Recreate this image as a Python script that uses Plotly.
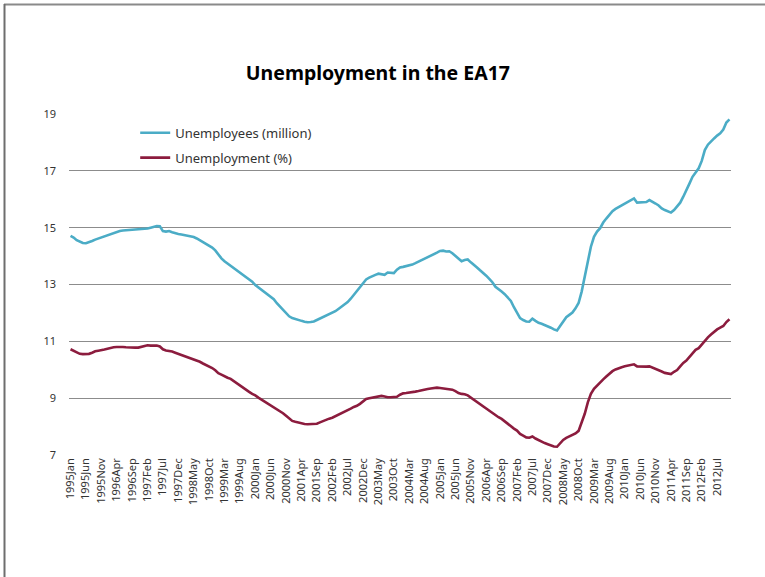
import plotly.graph_objects as go

MONTHS = ["Jan", "Feb", "Mar", "Apr", "May", "Jun", "Jul", "Aug", "Sep", "Oct", "Nov", "Dec"]
categories = [f"{y}{m}" for y in range(1995, 2013) for m in MONTHS][:215]

unemployees_million = [
    14.71, 14.65, 14.56, 14.50, 14.46, 14.45, 14.48, 14.53, 14.58, 14.62, 14.66, 14.70,
    14.74, 14.78, 14.82, 14.86, 14.88, 14.90, 14.91, 14.90, 14.91, 14.92, 14.93, 14.95,
    14.96, 14.97, 15.00, 15.04, 15.06, 15.05, 14.88, 14.86, 14.88, 14.84, 14.80, 14.78,
    14.76, 14.74, 14.72, 14.70, 14.67, 14.62, 14.56, 14.50, 14.44, 14.37, 14.30, 14.20,
    14.05, 13.92, 13.82, 13.74, 13.66, 13.58, 13.50, 13.43, 13.36, 13.28, 13.20, 13.10,
    12.98, 12.90, 12.82, 12.74, 12.66, 12.58, 12.48, 12.34, 12.22, 12.10, 11.98, 11.88,
    11.82, 11.78, 11.74, 11.72, 11.69, 11.67, 11.68, 11.70, 11.75, 11.80, 11.85, 11.90,
    11.94, 11.99, 12.06, 12.14, 12.22, 12.30, 12.38, 12.50, 12.64, 12.78, 12.92, 13.08,
    13.18, 13.24, 13.30, 13.34, 13.38, 13.36, 13.34, 13.42, 13.40, 13.40, 13.52, 13.60,
    13.62, 13.65, 13.66, 13.70, 13.75, 13.80, 13.86, 13.90, 13.95, 14.00, 14.06, 14.12,
    14.18, 14.19, 14.16, 14.17, 14.10, 14.00, 13.90, 13.82, 13.86, 13.88, 13.78, 13.70,
    13.60, 13.50, 13.42, 13.31, 13.20, 13.08, 12.92, 12.82, 12.75, 12.66, 12.55, 12.42,
    12.20, 12.00, 11.82, 11.75, 11.70, 11.69, 11.80, 11.72, 11.65, 11.62, 11.58, 11.52,
    11.48, 11.42, 11.38, 11.54, 11.69, 11.85, 11.93, 12.01, 12.16, 12.35, 12.75, 13.27,
    13.80, 14.33, 14.68, 14.86, 14.98, 15.18, 15.32, 15.46, 15.58, 15.66, 15.72, 15.78,
    15.86, 15.91, 15.96, 16.03, 15.88, 15.88, 15.89, 15.90, 15.97, 15.92, 15.85, 15.78,
    15.68, 15.62, 15.56, 15.53, 15.62, 15.74, 15.88, 16.09, 16.30, 16.55, 16.79, 16.95,
    17.09, 17.35, 17.73, 17.92, 18.05, 18.14, 18.24, 18.32, 18.45, 18.70, 18.81,
]

unemployment_pct = [
    10.72, 10.66, 10.60, 10.56, 10.55, 10.55, 10.56, 10.60, 10.65, 10.67, 10.68, 10.71,
    10.74, 10.77, 10.79, 10.80, 10.81, 10.80, 10.79, 10.78, 10.78, 10.78, 10.78, 10.80,
    10.84, 10.86, 10.85, 10.86, 10.85, 10.82, 10.72, 10.68, 10.67, 10.64, 10.60, 10.56,
    10.52, 10.49, 10.46, 10.42, 10.38, 10.33, 10.28, 10.22, 10.17, 10.12, 10.06, 9.98,
    9.88, 9.83, 9.77, 9.72, 9.68, 9.60, 9.52, 9.43, 9.35, 9.28, 9.22, 9.15,
    9.10, 9.02, 8.95, 8.88, 8.82, 8.76, 8.70, 8.62, 8.55, 8.47, 8.38, 8.28,
    8.20, 8.17, 8.14, 8.12, 8.09, 8.08, 8.08, 8.09, 8.10, 8.15, 8.20, 8.25,
    8.28, 8.31, 8.36, 8.42, 8.48, 8.53, 8.58, 8.63, 8.69, 8.73, 8.80, 8.90,
    8.97, 9.00, 9.02, 9.03, 9.06, 9.08, 9.06, 9.03, 9.03, 9.05, 9.05, 9.12,
    9.17, 9.18, 9.19, 9.21, 9.23, 9.25, 9.28, 9.30, 9.32, 9.34, 9.36, 9.37,
    9.36, 9.35, 9.33, 9.31, 9.30, 9.25, 9.18, 9.15, 9.14, 9.10, 9.02, 8.95,
    8.88, 8.80, 8.71, 8.62, 8.55, 8.47, 8.39, 8.33, 8.27, 8.18, 8.10, 8.00,
    7.93, 7.86, 7.74, 7.68, 7.62, 7.61, 7.65, 7.58, 7.52, 7.46, 7.42, 7.38,
    7.34, 7.30, 7.29, 7.40, 7.53, 7.60, 7.65, 7.70, 7.76, 7.85, 8.12, 8.45,
    8.85, 9.15, 9.33, 9.45, 9.56, 9.66, 9.76, 9.86, 9.95, 10.01, 10.06, 10.09,
    10.12, 10.15, 10.17, 10.19, 10.12, 10.11, 10.10, 10.11, 10.12, 10.08, 10.03, 9.99,
    9.94, 9.89, 9.86, 9.85, 9.93, 9.99, 10.12, 10.24, 10.32, 10.45, 10.61, 10.70,
    10.76, 10.90, 11.04, 11.14, 11.24, 11.34, 11.42, 11.48, 11.54, 11.68, 11.78,
]

tick_labels = categories[::5]
y_ticks = [7, 9, 11, 13, 15, 17, 19]

FONT = "Noto Sans, Open Sans, sans-serif"
CYAN = "#4BACC6"
MAROON = "#8C1C3E"

fig = go.Figure()
fig.add_trace(go.Scatter(
    x=categories, y=unemployees_million, mode="lines",
    name="Unemployees (million)", line=dict(color=CYAN, width=2.6),
    legend="legend",
))
fig.add_trace(go.Scatter(
    x=categories, y=unemployment_pct, mode="lines",
    name="Unemployment (%)", line=dict(color=MAROON, width=2.6),
    legend="legend2",
))

legend_common = dict(
    xanchor="left", yanchor="middle", bgcolor="rgba(0,0,0,0)",
    font=dict(family=FONT, size=13, color="#333333"),
    itemwidth=30,
)

# chart-area frame (top and left edges only are visible in the reference)
px_x = lambda p: (p - 69) / 662
px_y = lambda p: (455 - p) / 341

fig.update_layout(
    width=765, height=577,
    margin=dict(l=69, r=34, t=114, b=122),
    paper_bgcolor="white", plot_bgcolor="white",
    title=dict(
        text="<b>Unemployment in the EA17</b>",
        x=0.494, xref="container", xanchor="center",
        y=1 - 73 / 577, yref="container", yanchor="middle",
        font=dict(family=FONT, size=19.5, color="#000000"),
    ),
    showlegend=True,
    legend=dict(x=0.100, y=0.945, **legend_common),
    legend2=dict(x=0.100, y=0.872, **legend_common),
    xaxis=dict(
        type="category",
        range=[-0.5, 214.5],
        tickmode="array", tickvals=tick_labels, ticktext=tick_labels,
        tickangle=-90,
        tickfont=dict(family=FONT, size=11, color="#333333"),
        showgrid=False, zeroline=False,
        showline=False, ticks="",
    ),
    yaxis=dict(
        range=[7, 19],
        tickvals=y_ticks,
        tickfont=dict(family=FONT, size=11, color="#333333"),
        showgrid=True, gridcolor="#8C8C8C", gridwidth=1,
        zeroline=False, showline=False, ticks="",
        ticklabelstandoff=12,
    ),
    shapes=[
        dict(type="line", xref="paper", yref="paper",
             x0=px_x(4), x1=px_x(800), y0=px_y(4.5), y1=px_y(4.5),
             line=dict(color="#8A8A8A", width=2), layer="below"),
        dict(type="line", xref="paper", yref="paper",
             x0=px_x(4.5), x1=px_x(4.5), y0=px_y(4), y1=px_y(620),
             line=dict(color="#6E6E6E", width=2), layer="below"),
    ],
)

fig.write_html(
    "out.html",
    config={"displayModeBar": False},
    post_script="document.body.style.margin='0';document.body.style.overflow='hidden';",
)
